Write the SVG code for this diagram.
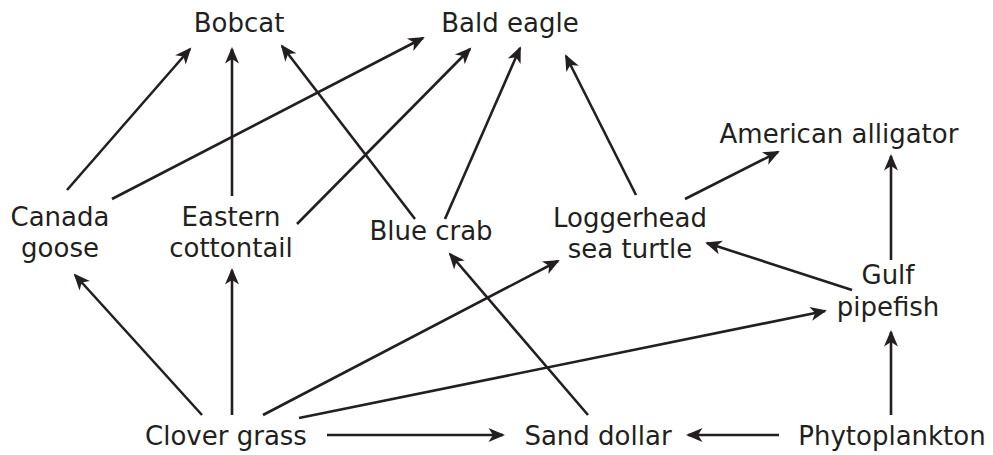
<svg xmlns="http://www.w3.org/2000/svg" width="993" height="455" viewBox="0 0 993 455">
<style>
text{font-family:"DejaVu Sans",Verdana,sans-serif;font-size:26px;fill:#231f20;text-anchor:middle}
.c line{stroke:#231f20;stroke-width:2.6;marker-end:url(#ah)}
</style>
<defs>
<marker id="ah" markerUnits="userSpaceOnUse" viewBox="-18 -9 22 18" markerWidth="22" markerHeight="18" refX="-2" refY="0" orient="auto">
<path d="M0,0 L-16.5,-7 L-12,0 L-16.5,7 Z" fill="#231f20"/>
</marker>
</defs>
<rect width="993" height="455" fill="#fff"/>
<g class="c" id="connectors">
<line x1="67" y1="190" x2="190" y2="49"/>
<line x1="112" y1="199" x2="423" y2="38"/>
<line x1="232" y1="196" x2="232" y2="49"/>
<line x1="297" y1="224" x2="470" y2="49"/>
<line x1="415" y1="219" x2="282" y2="46"/>
<line x1="445" y1="219" x2="520" y2="48"/>
<line x1="636" y1="195" x2="566" y2="56"/>
<line x1="685" y1="199" x2="778" y2="152"/>
<line x1="891" y1="260" x2="891" y2="156"/>
<line x1="852" y1="290" x2="707" y2="243"/>
<line x1="202" y1="415" x2="75" y2="275"/>
<line x1="232" y1="415" x2="232" y2="270"/>
<line x1="263" y1="415" x2="558" y2="261"/>
<line x1="299" y1="418" x2="825" y2="311"/>
<line x1="588" y1="415" x2="450" y2="254"/>
<line x1="327" y1="435" x2="503" y2="435"/>
<line x1="779" y1="435" x2="688" y2="435"/>
<line x1="891" y1="415" x2="891" y2="332"/>
</g>
<g id="bobcat"><text x="239" y="32">Bobcat</text></g>
<g id="bald-eagle"><text x="510" y="32">Bald eagle</text></g>
<g id="american-alligator"><text x="839" y="143">American alligator</text></g>
<g id="canada-goose"><text x="60" y="226">Canada</text><text x="60" y="257">goose</text></g>
<g id="eastern-cottontail"><text x="231" y="226">Eastern</text><text x="231" y="257">cottontail</text></g>
<g id="blue-crab"><text x="431" y="240">Blue crab</text></g>
<g id="loggerhead"><text x="630" y="227">Loggerhead</text><text x="630" y="258">sea turtle</text></g>
<g id="gulf-pipefish"><text x="888" y="284">Gulf</text><text x="888" y="316">pipefish</text></g>
<g id="clover-grass"><text x="226" y="445">Clover grass</text></g>
<g id="sand-dollar"><text x="598" y="445">Sand dollar</text></g>
<g id="phytoplankton"><text x="892" y="445">Phytoplankton</text></g>
</svg>
